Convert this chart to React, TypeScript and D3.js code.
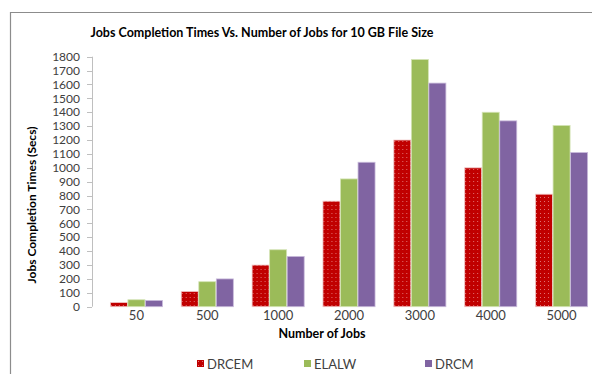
import React from "react";
import * as d3 from "d3";

const categories = ["50", "500", "1000", "2000", "3000", "4000", "5000"];
const seriesNames = ["DRCEM", "ELALW", "DRCM"];
const drcem = [30, 110, 300, 760, 1200, 1000, 810];
const elalw = [50, 180, 410, 920, 1780, 1400, 1305];
const drcm = [45, 200, 362, 1040, 1610, 1338, 1110];
const yTicks = d3.range(0, 1801, 100);
const colors = ["#C00000", "#9BBB59", "#8064A2"];

const W = 592;
const H = 374;
const FONT = "Lato, 'Open Sans', sans-serif";

export default function App() {
  const series = [drcem, elalw, drcm];
  const y = d3.scaleLinear().domain([0, 1800]).range([306.7, 56.7]);
  const x0 = d3.scaleBand().domain(categories).range([101, 597]).paddingInner(0.25).paddingOuter(0.125);
  const x1 = d3.scaleBand().domain(seriesNames).range([0, x0.bandwidth()]).padding(0.03);
  const axisX = 92;
  const legendX = [197, 304, 425];

  return (
    <svg width={W} height={H} style={{ position: "absolute", left: 0, top: 0, background: "#fff" }}>
      <defs>
        <pattern id="dots" width="4" height="4" patternUnits="userSpaceOnUse">
          <rect width="4" height="4" fill={colors[0]} />
          <rect x="1" y="1" width="1" height="1" fill="#e07070" />
        </pattern>
      </defs>
      <rect x={0} y={0} width={W} height={H} fill="#fff" />
      <path d={`M10.5,${H} V12.5 H${W}`} fill="none" stroke="#8c8c8c" strokeWidth={1.2} />
      <text x={262} y={37} textAnchor="middle" fontFamily={FONT} fontWeight="bold" fontSize={12.5} fill="#000">
        Jobs Completion Times  Vs. Number of Jobs for 10 GB File Size
      </text>
      {/* y axis */}
      <line x1={axisX + 0.5} x2={axisX + 0.5} y1={y(1800)} y2={y(0)} stroke="#bfbfbf" />
      {yTicks.map((t) => (
        <g key={t}>
          <line x1={axisX - 5} x2={axisX} y1={Math.round(y(t)) + 0.5} y2={Math.round(y(t)) + 0.5} stroke="#bfbfbf" />
          <text x={80} y={y(t)} dy="0.35em" textAnchor="end" fontFamily={FONT} fontSize={12} fill="#404040">
            {t}
          </text>
        </g>
      ))}
      <text
        transform={`translate(32,205) rotate(-90)`}
        textAnchor="middle"
        dy="0.35em"
        fontFamily={FONT}
        fontWeight="bold"
        fontSize={12}
        fill="#000"
      >
        Jobs Completion Times (Secs)
      </text>
      {/* bars */}
      {categories.map((c, i) => (
        <g key={c} transform={`translate(${x0(c)},0)`}>
          {series.map((s, j) => (
            <rect
              key={j}
              x={x1(seriesNames[j])}
              y={y(s[i])}
              width={x1.bandwidth()}
              height={y(0) - y(s[i])}
              fill={j === 0 ? "url(#dots)" : colors[j]}
              stroke={j === 0 ? "#f2c9c9" : j === 1 ? "#d4e4b5" : "#c9bbdb"}
              strokeWidth={0.8}
            />
          ))}
          <text
            x={x0.bandwidth() / 2}
            y={320}
            textAnchor="middle"
            fontFamily={FONT}
            fontSize={13}
            fill="#404040"
          >
            {c}
          </text>
        </g>
      ))}
      <text x={322} y={338} textAnchor="middle" fontFamily={FONT} fontWeight="bold" fontSize={12.5} fill="#000">
        Number of Jobs
      </text>
      {/* legend */}
      {seriesNames.map((n, j) => (
        <g key={n} transform={`translate(${legendX[j]},0)`}>
          <rect x={0} y={360} width={7} height={7} fill={j === 0 ? "url(#dots)" : colors[j]} />
          <text x={10} y={364} dy="0.35em" fontFamily={FONT} fontSize={13} fill="#404040">
            {n}
          </text>
        </g>
      ))}
    </svg>
  );
}
